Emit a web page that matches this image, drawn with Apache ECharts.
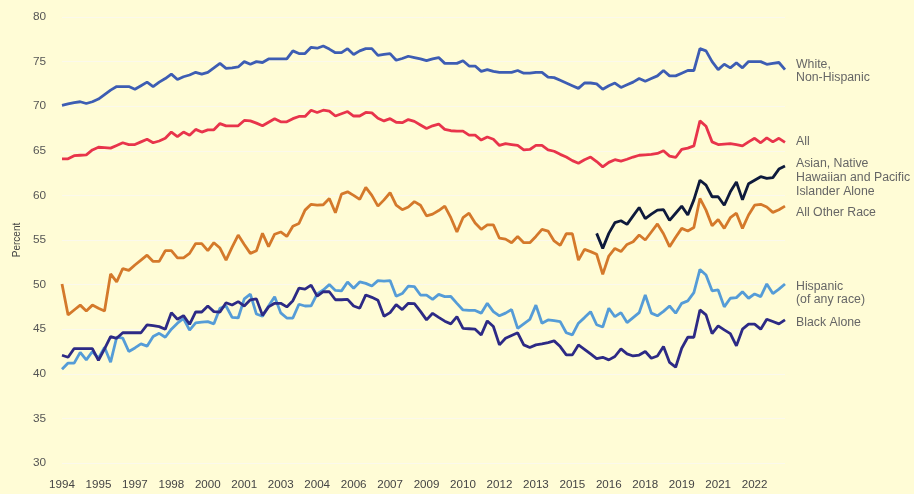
<!DOCTYPE html>
<html>
<head>
<meta charset="utf-8">
<script src="https://cdn.jsdelivr.net/npm/echarts@6/dist/echarts.min.js"></script>
<style>
html,body{margin:0;padding:0;background:#FFFCD6;}
#c{width:914px;height:494px;}
</style>
</head>
<body>
<div id="c"></div>
<script>
// Quarterly categories 1994 Q1 .. 2023 Q4
var years = [];
for (var y = 1994; y <= 2023; y++) years.push(y);
var quarters = ['Q1','Q2','Q3','Q4'];
var categories = [];
years.forEach(function(yr){ quarters.forEach(function(q){ categories.push(yr + ' ' + q); }); });

var yTicks = {min: 30, max: 80, step: 5};

var whiteNonHispanic = [70.1,70.25,70.4,70.5,70.3,70.5,70.8,71.3,71.8,72.2,72.2,72.2,71.9,72.3,72.7,72.2,72.7,73.1,73.6,73.0,
73.3,73.5,73.8,73.6,73.8,74.3,74.8,74.25,74.3,74.4,75.0,74.7,75.0,74.9,75.3,75.3,75.3,75.3,76.2,75.9,
75.9,76.6,76.5,76.75,76.4,76.0,76.0,76.45,75.8,76.2,76.45,76.45,75.7,75.8,75.9,75.15,75.35,75.6,75.45,75.3,
75.1,75.3,75.45,74.8,74.8,74.8,75.1,74.5,74.5,73.9,74.1,73.9,73.8,73.8,73.8,74.0,73.7,73.7,73.8,73.8,
73.25,73.2,72.9,72.6,72.3,72.0,72.6,72.6,72.5,71.9,72.3,72.6,72.1,72.4,72.7,73.1,72.8,73.1,73.4,74.0,
73.4,73.4,73.7,74.0,74.0,76.45,76.2,75.0,74.1,74.7,74.3,74.85,74.3,75.0,75.0,75.0,74.7,74.8,74.9,74.1];

var allRace = [64.1,64.1,64.45,64.5,64.55,65.1,65.4,65.35,65.3,65.6,65.9,65.7,65.7,66.0,66.3,65.9,66.1,66.4,67.1,66.6,
67.1,66.75,67.4,67.1,67.35,67.35,68.05,67.8,67.8,67.8,68.4,68.35,68.1,67.8,68.2,68.6,68.25,68.25,68.6,68.85,
68.85,69.55,69.3,69.55,69.45,68.9,69.15,69.4,68.9,68.9,69.3,69.25,68.65,68.35,68.6,68.2,68.15,68.5,68.3,67.9,
67.5,67.8,68.0,67.4,67.25,67.2,67.2,66.75,66.75,66.2,66.55,66.3,65.6,65.8,65.7,65.6,65.1,65.15,65.6,65.6,
65.1,64.95,64.6,64.3,63.9,63.6,64.0,64.3,63.8,63.2,63.7,64.0,63.85,64.05,64.3,64.5,64.55,64.6,64.7,65.0,
64.4,64.25,65.15,65.3,65.55,68.35,67.75,66.0,65.7,65.75,65.8,65.7,65.55,66.0,66.4,65.9,66.45,66.0,66.4,65.95];

var asianNHPI = [];
for (var k = 0; k < 88; k++) asianNHPI.push(null);
asianNHPI = asianNHPI.concat([55.74,54.06,55.74,56.94,57.16,56.75,57.7,58.65,57.4,57.9,58.35,58.4,
57.2,58.0,58.8,57.8,59.5,61.7,61.15,59.85,59.85,58.9,60.4,61.5,59.5,61.3,61.7,62.1,61.9,62.0,62.95,63.3]);

var allOtherRace = [50.07,46.6,47.15,47.7,47.05,47.7,47.35,47.05,51.2,50.3,51.8,51.6,52.2,52.75,53.3,52.6,52.6,53.8,53.8,53.0,
53.0,53.5,54.6,54.6,53.8,54.7,54.1,52.75,54.2,55.55,54.5,53.5,53.8,55.75,54.25,55.65,55.9,55.4,56.55,56.85,
58.35,59.0,58.9,58.95,59.65,58.05,60.15,60.4,60.0,59.55,60.9,60.0,58.8,59.5,60.3,58.9,58.4,58.7,59.3,58.9,
57.7,57.9,58.3,58.8,57.5,55.9,57.5,58.0,56.9,56.2,56.7,56.7,55.2,55.1,54.7,55.4,54.7,54.7,55.4,56.2,
56.0,54.9,54.4,55.7,55.7,52.75,53.95,53.7,53.4,51.15,53.2,54.05,53.7,54.5,54.8,55.56,55.0,55.9,56.8,55.7,
54.25,55.3,56.3,56.0,56.4,59.66,58.35,56.6,57.3,56.3,57.5,58.0,56.3,57.8,58.9,59.0,58.7,58.1,58.4,58.8];

var hispanic = [40.5,41.2,41.2,42.4,41.56,42.5,41.75,42.97,41.3,44.1,44.0,42.5,42.9,43.35,43.1,44.17,44.54,44.1,45.0,45.67,
46.2,44.9,45.7,45.8,45.85,45.6,47.34,47.6,46.33,46.26,48.4,48.94,46.7,46.45,47.6,48.65,46.83,46.25,46.25,47.8,
47.6,47.62,48.95,49.4,50.0,49.35,49.3,50.3,49.6,50.3,50.14,49.84,50.44,50.4,50.45,48.7,49.0,49.84,49.77,48.83,
48.83,48.35,48.9,48.65,48.67,47.9,47.16,47.1,47.1,46.8,47.9,46.97,46.5,46.8,47.2,45.1,45.6,46.1,47.7,45.67,
46.04,45.96,45.85,44.6,44.36,45.67,46.3,46.97,45.5,45.25,47.35,46.4,46.86,45.74,46.3,46.86,48.84,46.8,46.5,47.0,
47.6,46.8,47.9,48.17,49.1,51.7,51.08,49.3,49.4,47.5,48.47,48.54,49.2,48.47,48.95,48.65,50.07,49.0,49.5,50.07];

var blackAlone = [42.08,41.86,42.83,42.83,42.83,42.83,41.5,42.8,44.17,43.98,44.6,44.6,44.6,44.6,45.48,45.4,45.29,45.0,46.86,46.11,
46.52,45.55,46.93,46.93,47.6,46.97,46.93,47.97,47.71,48.09,47.6,48.3,48.4,46.55,47.5,47.9,47.9,47.5,48.2,49.6,
49.5,49.95,48.7,49.2,49.2,48.3,48.3,48.35,47.6,47.35,48.84,48.57,48.25,46.45,46.86,47.75,47.2,47.9,47.86,47.0,
46.04,46.78,46.33,45.9,45.6,46.41,45.1,45.05,45.0,44.36,45.93,45.3,43.24,43.98,44.3,44.6,43.24,42.94,43.24,43.35,
43.5,43.69,43.05,42.12,42.12,43.24,42.75,42.23,41.7,41.85,41.56,41.94,42.8,42.24,42.0,42.1,42.5,41.75,42.0,43.06,
41.27,40.74,42.87,44.1,44.1,47.16,46.6,44.5,45.37,44.92,44.5,43.13,45.0,45.56,45.56,45.0,46.12,45.86,45.6,46.04];

var seriesDefs = [
  {name: 'White, Non-Hispanic', label: 'White,\nNon-Hispanic', data: whiteNonHispanic, color: '#3D5DB3', dy: 1.5},
  {name: 'All', label: 'All', data: allRace, color: '#E8344B', dy: -1},
  {name: 'Asian, Native Hawaiian and Pacific Islander Alone', label: 'Asian, Native\nHawaiian and Pacific\nIslander Alone', data: asianNHPI, color: '#0E1A3C', dy: 11.5},
  {name: 'All Other Race', label: 'All Other Race', data: allOtherRace, color: '#D4792B', dy: 6},
  {name: 'Hispanic (of any race)', label: 'Hispanic\n(of any race)', data: hispanic, color: '#559CD7', dy: 9},
  {name: 'Black Alone', label: 'Black Alone', data: blackAlone, color: '#2D2A85', dy: 3}
];

var chart = echarts.init(document.getElementById('c'), null, {renderer: 'canvas'});
var FONT = '"Liberation Sans", Arial, sans-serif';

chart.setOption({
  backgroundColor: '#FFFCD6',
  animation: false,
  grid: {left: 62, right: 129, top: 17, bottom: 31, containLabel: false},
  xAxis: {
    type: 'category',
    data: categories,
    boundaryGap: false,
    axisLine: {show: false},
    axisTick: {show: false},
    splitLine: {show: false},
    axisLabel: {
      interval: 5,
      margin: 16,
      color: '#444',
      fontSize: 11.6,
      fontFamily: FONT,
      formatter: function(v){ return v.slice(0, 4); }
    }
  },
  yAxis: {
    type: 'value',
    min: yTicks.min,
    max: yTicks.max,
    interval: yTicks.step,
    name: 'Percent',
    nameLocation: 'middle',
    nameGap: 39,
    nameTextStyle: {color: '#444', fontSize: 10, fontFamily: FONT},
    axisLine: {show: false},
    axisTick: {show: false},
    axisLabel: {margin: 16, color: '#555', fontSize: 11.8, fontFamily: FONT},
    splitLine: {show: true, lineStyle: {color: '#FBF9EC', width: 1}}
  },
  series: seriesDefs.map(function(s){
    return {
      name: s.name,
      type: 'line',
      data: s.data,
      symbol: 'none',
      connectNulls: false,
      lineStyle: {color: s.color, width: 2.8},
      itemStyle: {color: s.color},
      endLabel: {
        show: true,
        distance: 11,
        offset: [0, s.dy],
        formatter: function(){ return s.label; },
        color: '#666',
        fontSize: 12.3,
        lineHeight: 13.7,
        fontFamily: FONT
      }
    };
  })
});
</script>
</body>
</html>
